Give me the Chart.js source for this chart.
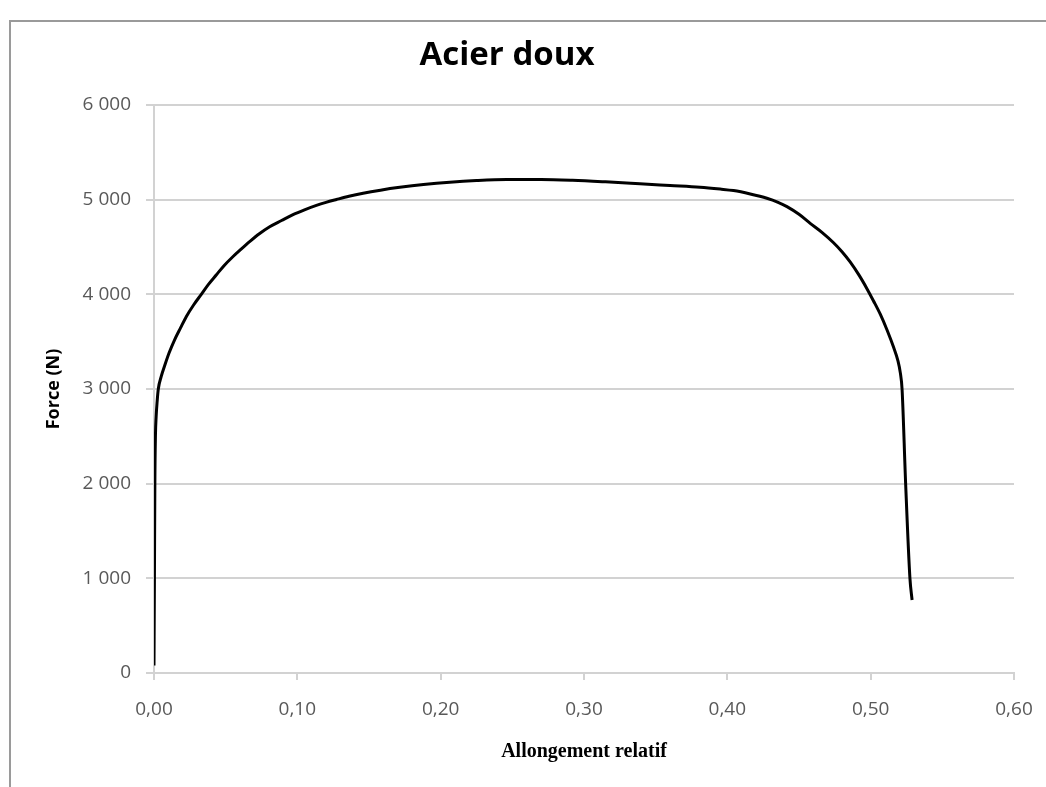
<!DOCTYPE html>
<html>
<head>
<meta charset="utf-8">
<title>Acier doux</title>
<script src="https://cdn.jsdelivr.net/npm/chart.js@4.4.1/dist/chart.umd.min.js"></script>
<style>
  html, body { margin: 0; padding: 0; background: #ffffff; }
  #wrap { position: relative; width: 1046px; height: 787px; overflow: hidden; }
  #frame { position: absolute; left: 9px; top: 20px; width: 1100px; height: 900px;
           border-left: 2px solid #9a9a9a; border-top: 2px solid #9a9a9a; }
  canvas { position: absolute; left: 0; top: 0; }
</style>
</head>
<body>
<div id="wrap">
  <div id="frame"></div>
  <canvas id="chart" width="1046" height="787"></canvas>
</div>
<script>
// Tensile test of mild steel: relative elongation vs force (N)
const strain = [
  0.0000, 0.0003, 0.0006, 0.0010, 0.0015, 0.0022, 0.0030, 0.0050, 0.0073, 0.0105,
  0.0143, 0.0185, 0.0225, 0.0275, 0.0330, 0.0380, 0.0434, 0.0490, 0.0550, 0.0610,
  0.0667, 0.0735, 0.0807, 0.0890, 0.0970, 0.1050, 0.1133, 0.1200, 0.1273, 0.1360,
  0.1459, 0.1580, 0.1715, 0.1880, 0.2064, 0.2250, 0.2460, 0.2700, 0.2920, 0.3150,
  0.3390, 0.3600, 0.3810, 0.3950, 0.4043, 0.4160, 0.4276, 0.4350, 0.4416, 0.4500,
  0.4578, 0.4660, 0.4741, 0.4800, 0.4858, 0.4920, 0.4974, 0.5020, 0.5067, 0.5115,
  0.5160, 0.5190, 0.5207, 0.5219, 0.5244, 0.5274, 0.5289
];
const force = [
    80, 1000, 2000, 2500, 2710, 2870, 3000, 3130, 3240, 3380,
  3517, 3645, 3764, 3885, 4000, 4105, 4204, 4305, 4397, 4480,
  4556, 4640, 4714, 4780, 4842, 4893, 4940, 4972, 5002, 5036,
  5068, 5100, 5130, 5160, 5185, 5202, 5212, 5212, 5204, 5188,
  5168, 5150, 5132, 5112, 5096, 5060, 5015, 4975, 4926, 4845,
  4750, 4655, 4545, 4450, 4340, 4200, 4060, 3930, 3790, 3620,
  3440, 3300, 3170, 3000, 2000, 1000,  771
];

const xTickValues = [0, 0.1, 0.2, 0.3, 0.4, 0.5, 0.6];
const xTickLabels = ['0,00', '0,10', '0,20', '0,30', '0,40', '0,50', '0,60'];
const yTickValues = [0, 1000, 2000, 3000, 4000, 5000, 6000];
const yTickLabels = ['0', '1 000', '2 000', '3 000', '4 000', '5 000', '6 000'];

const GRID = '#d2d2d2';
const TICK_FONT = { family: "'Open Sans', sans-serif", size: 19 };

new Chart(document.getElementById('chart'), {
  type: 'scatter',
  data: {
    datasets: [{
      label: 'Force (N)',
      data: strain.map((x, i) => ({ x: x, y: force[i] })),
      showLine: true,
      borderColor: '#000000',
      backgroundColor: '#000000',
      borderWidth: 3,
      borderJoinStyle: 'round',
      pointRadius: 0,
      pointHoverRadius: 0,
      cubicInterpolationMode: 'monotone',
      fill: false
    }]
  },
  options: {
    responsive: false,
    animation: false,
    devicePixelRatio: 1,
    layout: { padding: { left: 0, right: 32, top: 0, bottom: 0 } },
    plugins: {
      legend: { display: false },
      tooltip: { enabled: false },
      title: {
        display: true,
        text: 'Acier doux',
        color: '#000000',
        font: { family: "'Open Sans', sans-serif", size: 33, weight: 'bold' },
        padding: { top: 36, bottom: 29.4 }
      }
    },
    scales: {
      x: {
        type: 'linear',
        min: 0,
        max: 0.6,
        afterBuildTicks: (s) => { s.ticks = xTickValues.map(v => ({ value: v })); },
        afterFit: (s) => { s.height = 114; s.paddingLeft = 0; s.paddingRight = 0; },
        ticks: {
          callback: (v, i) => xTickLabels[i],
          font: TICK_FONT,
          color: '#595959',
          padding: 18,
          maxRotation: 0,
          autoSkip: false
        },
        grid: { drawOnChartArea: false, drawTicks: true, tickLength: 7, color: GRID, lineWidth: 2 },
        border: { display: true, color: GRID, width: 2 },
        title: {
          display: true,
          text: 'Allongement relatif',
          color: '#000000',
          font: { family: "'Liberation Serif', serif", size: 20, weight: 'bold' },
          padding: { top: 0, bottom: 23 }
        }
      },
      y: {
        type: 'linear',
        min: 0,
        max: 6000,
        afterBuildTicks: (s) => { s.ticks = yTickValues.map(v => ({ value: v })); },
        afterFit: (s) => { s.width = 154; },
        ticks: {
          callback: (v, i) => yTickLabels[i],
          font: TICK_FONT,
          color: '#595959',
          padding: 15
        },
        grid: { drawTicks: true, tickLength: 8, color: GRID, lineWidth: 2 },
        border: { display: true, color: GRID, width: 2 },
        title: {
          display: true,
          text: 'Force (N)',
          color: '#000000',
          font: { family: "'Open Sans', sans-serif", size: 18, weight: 'bold' },
          padding: { top: 43, bottom: 0 }
        }
      }
    }
  }
});
</script>
</body>
</html>
